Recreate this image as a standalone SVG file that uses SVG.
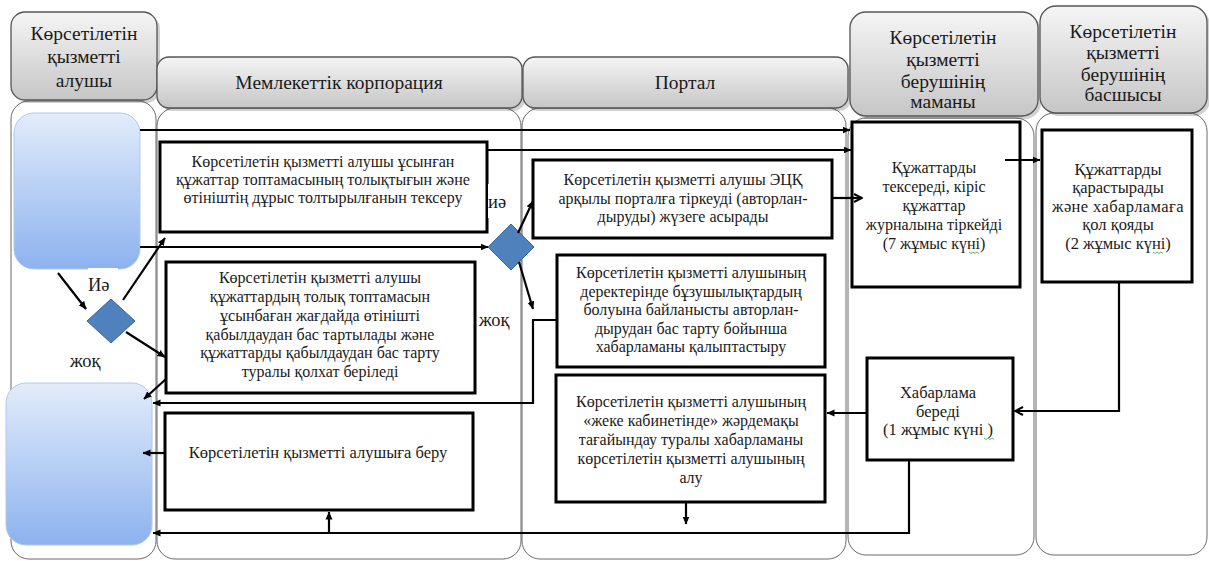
<svg xmlns="http://www.w3.org/2000/svg" width="1209" height="561" viewBox="0 0 1209 561">
  <defs>
    <linearGradient id="hdrGrad" x1="0" y1="0" x2="0" y2="1">
      <stop offset="0" stop-color="#f5f5f5"/>
      <stop offset="1" stop-color="#c6c6c6"/>
    </linearGradient>
    <linearGradient id="blueGrad" x1="0" y1="0" x2="0" y2="1">
      <stop offset="0" stop-color="#e2ecfb"/>
      <stop offset="1" stop-color="#8cb2ee"/>
    </linearGradient>
    <marker id="arrow" viewBox="0 0 8 8" refX="7.5" refY="4" markerWidth="8" markerHeight="8" markerUnits="userSpaceOnUse" orient="auto">
      <path d="M0,0.5 L8,4 L0,7.5 z" fill="#000"/>
    </marker>
    <marker id="chevron" viewBox="0 0 10 10" refX="9" refY="5" markerWidth="10" markerHeight="10" markerUnits="userSpaceOnUse" orient="auto">
      <path d="M1,1 L9,5 L1,9" fill="none" stroke="#000" stroke-width="2"/>
    </marker>
  </defs>
  <style>
    .hdr { fill: url(#hdrGrad); stroke: #555; stroke-width: 1.3; }
    .hdr-shadow { fill: #000; opacity: 0.18; }
    .lane { fill: #fff; stroke: #6a6a6a; stroke-width: 1; }
    .hdr-text { font-family: "Liberation Serif", "DejaVu Serif", serif; font-size: 19.5px; fill: #1a1a1a; text-anchor: middle; }
    .box { fill: #fff; stroke: #000; stroke-width: 3; }
    .box-text { font-family: "Liberation Serif", "DejaVu Serif", serif; font-size: 16px; fill: #1a1a1a; text-anchor: middle; }
    .box-text.wide { font-size: 16.5px; }
    .start { fill: url(#blueGrad); stroke: #b3c8ea; stroke-width: 1; }
    .decision { fill: #4f81bd; stroke: #3a6598; stroke-width: 1; }
    .label { font-family: "Liberation Serif", "DejaVu Serif", serif; font-size: 18.5px; fill: #1a1a1a; }
    .conn { fill: none; stroke: #000; stroke-width: 2.2; }
    .squiggle { fill: none; stroke: #3aa13a; stroke-width: 0.8; }
  </style>

  <!-- swimlane bodies -->
  <g id="lane-bodies">
    <rect class="lane" x="11" y="101" width="145" height="458" rx="18"/>
    <rect class="lane" x="157" y="108" width="364" height="451" rx="18"/>
    <rect class="lane" x="522" y="108" width="324" height="451" rx="18"/>
    <rect class="lane" x="848" y="118" width="186" height="437" rx="18"/>
    <rect class="lane" x="1036" y="113" width="171" height="442" rx="18"/>
  </g>

  <!-- swimlane headers -->
  <g id="lane-recipient">
    <rect class="hdr-shadow" x="14" y="15" width="146" height="88" rx="14"/>
    <rect class="hdr" x="11" y="12" width="146" height="88" rx="14"/>
    <text class="hdr-text" x="84" y="40">Көрсетілетін</text>
    <text class="hdr-text" x="84" y="63">қызметті</text>
    <text class="hdr-text" x="84" y="87">алушы</text>
  </g>
  <g id="lane-corporation">
    <rect class="hdr-shadow" x="160" y="60" width="365" height="51" rx="12"/>
    <rect class="hdr" x="157" y="57" width="365" height="51" rx="12"/>
    <text class="hdr-text" x="339" y="89">Мемлекеттік корпорация</text>
  </g>
  <g id="lane-portal">
    <rect class="hdr-shadow" x="526" y="60" width="325" height="51" rx="12"/>
    <rect class="hdr" x="523" y="57" width="325" height="51" rx="12"/>
    <text class="hdr-text" x="685" y="89">Портал</text>
  </g>
  <g id="lane-specialist">
    <rect class="hdr-shadow" x="853" y="15" width="188" height="104" rx="16"/>
    <rect class="hdr" x="850" y="12" width="188" height="104" rx="16"/>
    <text class="hdr-text" x="943" y="44">Көрсетілетін</text>
    <text class="hdr-text" x="943" y="66">қызметті</text>
    <text class="hdr-text" x="943" y="88">берушінің</text>
    <text class="hdr-text" x="943" y="108">маманы</text>
  </g>
  <g id="lane-head">
    <rect class="hdr-shadow" x="1043" y="9" width="167" height="107" rx="16"/>
    <rect class="hdr" x="1040" y="6" width="167" height="107" rx="16"/>
    <text class="hdr-text" x="1123" y="38">Көрсетілетін</text>
    <text class="hdr-text" x="1123" y="59">қызметті</text>
    <text class="hdr-text" x="1123" y="81">берушінің</text>
    <text class="hdr-text" x="1123" y="101">басшысы</text>
  </g>

  <!-- start / end terminals -->
  <g id="start">
    <rect class="start" x="14" y="113" width="126" height="156" rx="20"/>
  </g>
  <g id="end">
    <rect class="start" x="6" y="383" width="146" height="162" rx="20"/>
  </g>

  <!-- process boxes -->
  <g id="check-docs">
    <rect class="box" x="160" y="142" width="327" height="90"/>
    <text class="box-text" x="323" y="167">Көрсетілетін қызметті алушы ұсынған</text>
    <text class="box-text" x="323" y="185">құжаттар топтамасының толықтығын және</text>
    <text class="box-text" x="323" y="203">өтініштің дұрыс толтырылғанын тексеру</text>
  </g>
  <g id="refuse-docs">
    <rect class="box" x="166" y="262" width="309" height="131"/>
    <text class="box-text" x="320" y="283">Көрсетілетін қызметті алушы</text>
    <text class="box-text" x="320" y="302">құжаттардың толық топтамасын</text>
    <text class="box-text" x="320" y="321">ұсынбаған жағдайда өтінішті</text>
    <text class="box-text" x="320" y="340">қабылдаудан бас тартылады және</text>
    <text class="box-text" x="320" y="358">құжаттарды қабылдаудан бас тарту</text>
    <text class="box-text" x="320" y="377">туралы қолхат беріледі</text>
  </g>
  <g id="hand-over">
    <rect class="box" x="165" y="413" width="308" height="97"/>
    <text class="box-text wide" x="318" y="458">Көрсетілетін қызметті алушыға беру</text>
  </g>
  <g id="portal-auth">
    <rect class="box" x="533" y="160" width="299" height="78"/>
    <text class="box-text" x="683" y="185">Көрсетілетін қызметті алушы ЭЦҚ</text>
    <text class="box-text" x="683" y="204">арқылы порталға тіркеуді (авторлан-</text>
    <text class="box-text" x="683" y="222">дыруды) жүзеге асырады</text>
  </g>
  <g id="portal-refuse">
    <rect class="box" x="557" y="255" width="268" height="112"/>
    <text class="box-text" x="691" y="278">Көрсетілетін қызметті алушының</text>
    <text class="box-text" x="691" y="297">деректерінде бұзушылықтардың</text>
    <text class="box-text" x="691" y="315">болуына байланысты авторлан-</text>
    <text class="box-text" x="691" y="334">дырудан бас тарту бойынша</text>
    <text class="box-text" x="691" y="352">хабарламаны қалыптастыру</text>
  </g>
  <g id="portal-notice">
    <rect class="box" x="556" y="375" width="269" height="127"/>
    <text class="box-text" x="691" y="407">Көрсетілетін қызметті алушының</text>
    <text class="box-text" x="691" y="426">«жеке кабинетінде» жәрдемақы</text>
    <text class="box-text" x="691" y="445">тағайындау туралы хабарламаны</text>
    <text class="box-text" x="691" y="464">көрсетілетін қызметті алушының</text>
    <text class="box-text" x="691" y="483">алу</text>
  </g>
  <g id="specialist-check">
    <rect class="box" x="852" y="122" width="168" height="165"/>
    <text class="box-text" x="934" y="173">Құжаттарды</text>
    <text class="box-text" x="934" y="192">тексереді, кіріс</text>
    <text class="box-text" x="934" y="211">құжаттар</text>
    <text class="box-text" x="934" y="230">журналына тіркейді</text>
    <text class="box-text" x="934" y="249">(7 жұмыс күні)</text>
    <path class="squiggle" d="M969,252 l2,1.5 l2,-1.5 l2,1.5 l2,-1.5 l2,1.5"/>
  </g>
  <g id="head-sign">
    <rect class="box" x="1042" y="130" width="150" height="152"/>
    <text class="box-text wide" x="1118" y="175">Құжаттарды</text>
    <text class="box-text wide" x="1118" y="193">қарастырады</text>
    <text class="box-text wide" x="1118" y="212" letter-spacing="0.4">және хабарламаға</text>
    <text class="box-text wide" x="1118" y="230">қол қояды</text>
    <text class="box-text wide" x="1118" y="249">(2 жұмыс күні)</text>
    <path class="squiggle" d="M1153,252 l2,1.5 l2,-1.5 l2,1.5 l2,-1.5 l2,1.5"/>
  </g>
  <g id="specialist-notice">
    <rect class="box" x="867" y="358" width="146" height="102"/>
    <text class="box-text wide" x="938" y="398">Хабарлама</text>
    <text class="box-text wide" x="938" y="417">береді</text>
    <text class="box-text wide" x="938" y="435">(1 жұмыс күні )</text>
    <path class="squiggle" d="M984,438 l2,1.5 l2,-1.5 l2,1.5 l2,-1.5 l2,1.5"/>
  </g>

  <!-- decisions -->
  <g id="decision-docs">
    <polygon class="decision" points="111,299 135,321 111,343 87,321"/>
  </g>
  <g id="decision-auth">
    <polygon class="decision" points="511,224 534,247 511,270 488,247"/>
  </g>

  <!-- connectors -->
  <g id="connectors">
    <path class="conn" d="M140,130 H850" marker-end="url(#arrow)"/>
    <path class="conn" d="M487,150 H851" marker-end="url(#arrow)"/>
    <path class="conn" d="M140,247 H488" marker-end="url(#arrow)"/>
    <path class="conn" d="M58,273 L86,309" marker-end="url(#arrow)"/>
    <path class="conn" d="M123,300 L165,238" marker-end="url(#arrow)"/>
    <path class="conn" d="M126,332 L165,357" marker-end="url(#arrow)"/>
    <path class="conn" d="M166,379 L144,399" marker-end="url(#arrow)"/>
    <path class="conn" d="M557,320 H533 V403 H153" marker-end="url(#arrow)"/>
    <path class="conn" d="M518,233 L533,201" marker-end="url(#arrow)"/>
    <path class="conn" d="M519,262 L533,309" marker-end="url(#arrow)"/>
    <path class="conn" d="M832,198 H862" marker-end="url(#chevron)"/>
    <path class="conn" d="M1005,160 H1040" marker-end="url(#arrow)"/>
    <path class="conn" d="M1119,282 V411 H1015" marker-end="url(#chevron)"/>
    <path class="conn" d="M867,413 H827" marker-end="url(#arrow)"/>
    <path class="conn" d="M909,460 V533 H153" marker-end="url(#arrow)"/>
    <path class="conn" d="M329,533 V512" marker-end="url(#arrow)"/>
    <path class="conn" d="M686,502 V524" marker-end="url(#arrow)"/>
    <path class="conn" d="M165,453 H143" marker-end="url(#arrow)"/>
  </g>

  <!-- branch labels -->
  <g id="labels">
    <rect x="88" y="268" width="30" height="29" fill="#fff"/>
    <text class="label" x="88" y="291" font-size="19">Иә</text>
    <text class="label" x="70" y="367">жоқ</text>
    <rect x="488" y="184" width="22" height="34" fill="#fff"/>
    <text class="label" x="488" y="208">иә</text>
    <text class="label" x="479" y="326">жоқ</text>
  </g>
</svg>
